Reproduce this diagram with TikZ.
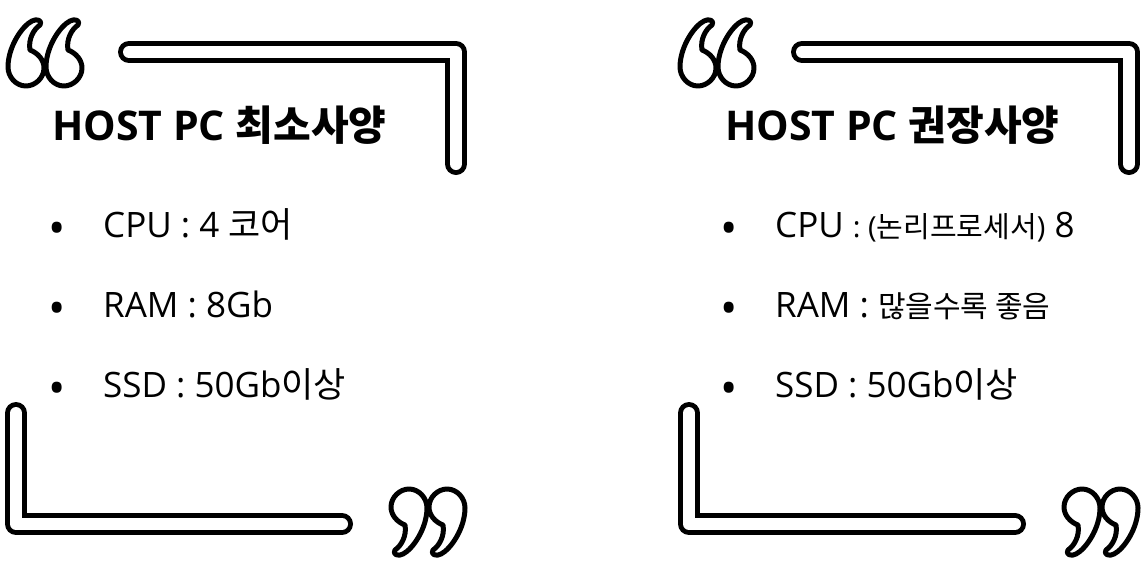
\documentclass[tikz,border=0pt]{standalone}
\usepackage{fontspec}
\setmainfont{Open Sans}
\newfontfamily\kr{Noto Sans CJK KR}
\usepackage{tikz}

\tikzset{
  bracket/.style={line width=5pt, double=white, double distance=12pt, line cap=round, line join=round},
  quote/.pic={
    \draw[line width=5pt, fill=white, line join=round]
      (14,-28) .. controls (8,-24) and (2,-14) .. (4,-3)
      .. controls (12,0) and (18,7) .. (18,15)
      .. controls (18,25) and (9,33) .. (0,33)
      .. controls (-10,33) and (-18,24) .. (-18,14)
      .. controls (-18,-6) and (-4,-27) .. (6,-32)
      .. controls (11,-35) and (17,-32) .. (14,-28) -- cycle;
  },
  title/.style={anchor=base west, inner sep=0pt, font=\fontsize{41}{46}\selectfont\bfseries},
  item/.style={anchor=base west, inner sep=0pt, font=\fontsize{35}{40}\selectfont},
  dot/.style={anchor=base, inner sep=0pt, yshift=-7pt, font=\fontsize{46}{50}\selectfont}
}

\begin{document}
\begin{tikzpicture}[x=1pt, y=-1pt]
  \fill[white] (0,0) rectangle (1148,563);
  % left panel: minimum
  \draw[bracket] (129,52) -- (456,52) -- (456,164);
  \draw[bracket] (16,413) -- (16,524) -- (342,524);
  \pic at (26,53) {quote};
  \pic at (64,53) {quote};
  \pic[rotate=180] at (409,522) {quote};
  \pic[rotate=180] at (447,522) {quote};
  \node[title] (mintitle) at (52,140) {HOST PC {\kr 최소사양}};
  \node[dot] (mindot1) at (57,237) {•};
  \node[dot] (mindot2) at (57,317) {•};
  \node[dot] (mindot3) at (57,397) {•};
  \node[item] (mincpu) at (103,237) {CPU : 4 {\kr 코어}};
  \node[item] (minram) at (103,317) {RAM : 8Gb};
  \node[item] (minssd) at (103,397) {SSD : 50Gb{\kr 이상}};
  % right panel: recommended
  \draw[bracket] (802,52) -- (1129,52) -- (1129,164);
  \draw[bracket] (689,413) -- (689,524) -- (1015,524);
  \pic at (698,53) {quote};
  \pic at (736,53) {quote};
  \pic[rotate=180] at (1082,522) {quote};
  \pic[rotate=180] at (1120,522) {quote};
  \node[title] (rectitle) at (725,140) {HOST PC {\kr 권장사양}};
  \node[dot] (recdot1) at (729,237) {•};
  \node[dot] (recdot2) at (729,317) {•};
  \node[dot] (recdot3) at (729,397) {•};
  \node[item] (reccpu) at (775,237) {CPU {\fontsize{29}{33}\selectfont : ({\kr 논리프로세서})} 8};
  \node[item] (recram) at (775,317) {RAM : {\kr\fontsize{30}{34}\selectfont 많을수록 좋음}};
  \node[item] (recssd) at (775,397) {SSD : 50Gb{\kr 이상}};
\end{tikzpicture}
\end{document}
